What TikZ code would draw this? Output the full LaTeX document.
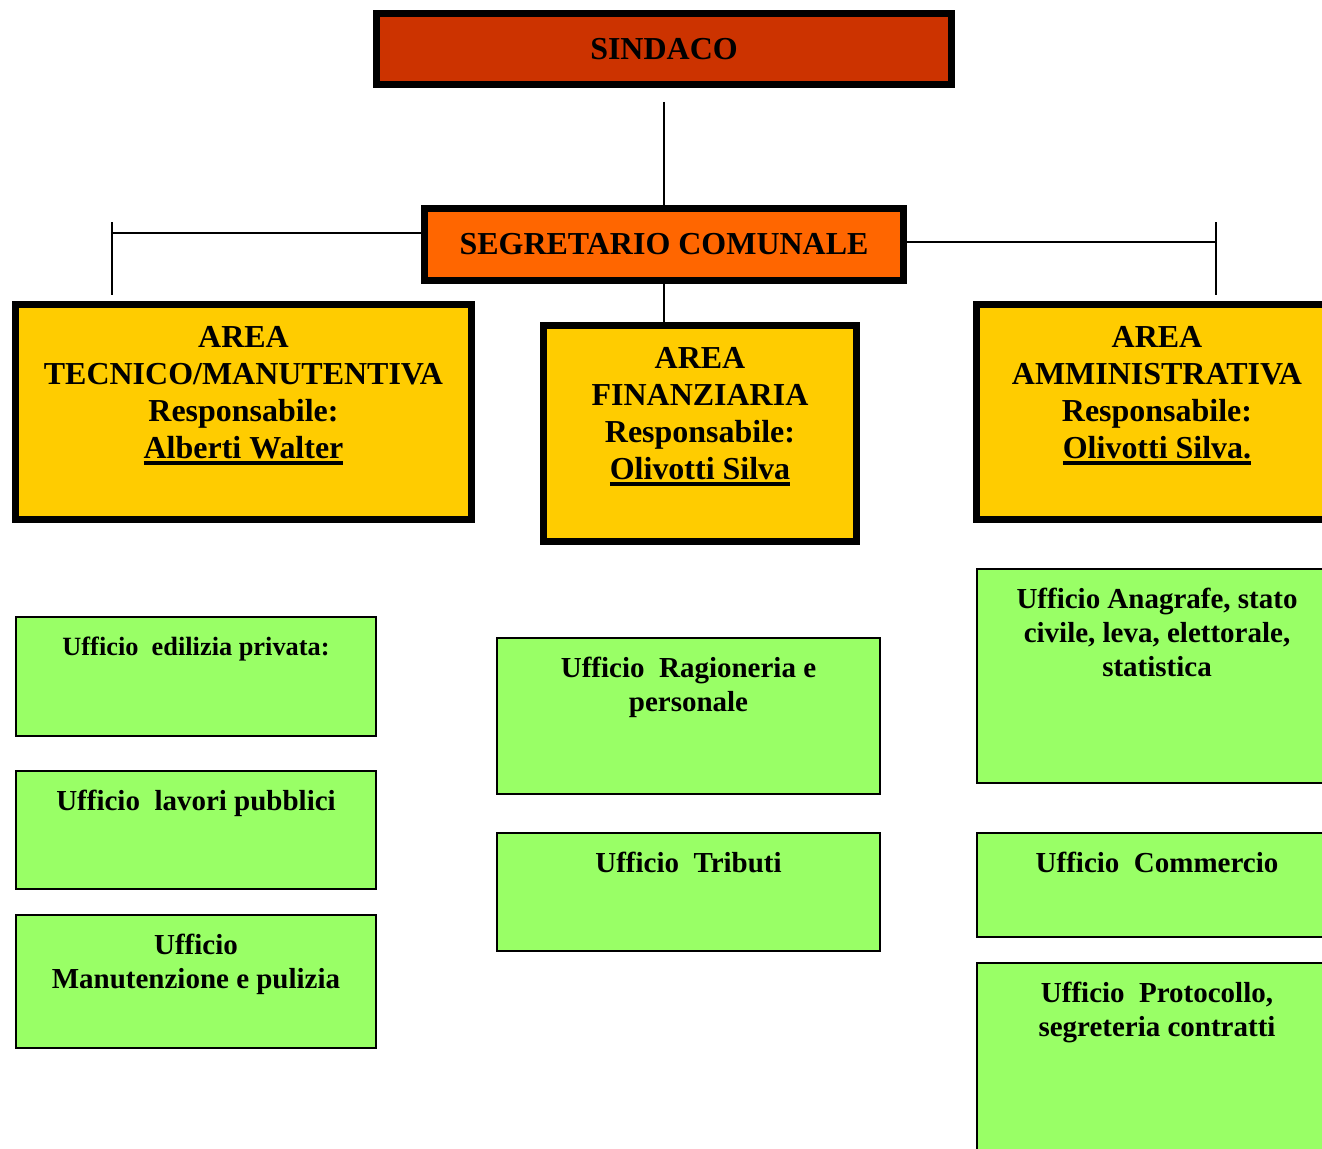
\documentclass[tikz,border=0pt]{standalone}
\usepackage{fontspec}
\setmainfont{Liberation Serif}
\usetikzlibrary{positioning}
\definecolor{rossosind}{HTML}{CC3300}
\definecolor{arancio}{HTML}{FF6600}
\definecolor{giallo}{HTML}{FFCC00}
\definecolor{verde}{HTML}{99FF66}
\newcommand{\sottol}[1]{\setbox0\hbox{#1}\leavevmode\rlap{\rule[-3.4pt]{\wd0}{1.8pt}}\box0}

\begin{document}
\begin{tikzpicture}[
  x=0.02cm, y=-0.02cm,
  node distance=0.4cm
]
\tikzstyle{capo}=[draw=black, line width=4pt, inner sep=0pt,
  font=\bfseries\fontsize{18.2}{21}\selectfont]
\tikzstyle{area}=[capo, fill=giallo, minimum height=4.3cm]
\tikzstyle{ufficio}=[draw=black, line width=1pt, fill=verde, inner sep=0pt, minimum width=7.2cm]
\tikzstyle{titolo}=[font=\bfseries\fontsize{18.2}{21}\selectfont, align=center, inner sep=0pt]
\tikzstyle{testo}=[font=\bfseries\fontsize{16.5}{19.3}\selectfont, align=center, inner sep=0pt]
\tikzstyle{linea}=[line width=0.8pt]

\useasboundingbox (0,0) rectangle (1322,1149);
\clip (0,0) rectangle (1322,1149);

% vertice
\node[capo, fill=rossosind, minimum width=11.5cm, minimum height=1.42cm] (sindaco) at (664,49) {SINDACO};
\node[capo, fill=arancio, minimum width=9.58cm, minimum height=1.44cm] (segretario) at (664,244.5) {SEGRETARIO COMUNALE};

% aree
\node[area, minimum width=9.12cm] (tecnica) at (243.5,412) {};
\node[area, minimum width=6.26cm, minimum height=4.32cm] (finanziaria) at (700,433.5) {};
\node[area, minimum width=7.22cm] (amministrativa) at (1157,412) {};

\node[titolo, below=0.51cm of tecnica.north] (tecnica-t)
  {AREA\\TECNICO/MANUTENTIVA\\Responsabile:\\\sottol{Alberti Walter}};
\node[titolo, below=0.51cm of finanziaria.north] (finanziaria-t)
  {AREA\\FINANZIARIA\\Responsabile:\\\sottol{Olivotti Silva}};
\node[titolo, below=0.51cm of amministrativa.north] (amministrativa-t)
  {AREA\\AMMINISTRATIVA\\Responsabile:\\\sottol{Olivotti Silva.}};

% uffici
\node[ufficio, minimum height=2.38cm] (edilizia) at (196,676.5) {};
\node[ufficio, minimum height=2.36cm] (lavori) at (196,830) {};
\node[ufficio, minimum height=2.66cm] (manutenzione) at (196,981.5) {};
\node[ufficio, minimum width=7.66cm, minimum height=3.12cm] (ragioneria) at (688.5,716) {};
\node[ufficio, minimum width=7.66cm, minimum height=2.36cm] (tributi) at (688.5,892) {};
\node[ufficio, minimum height=4.28cm] (anagrafe) at (1157,676) {};
\node[ufficio, minimum height=2.08cm] (commercio) at (1157,885) {};
\node[ufficio, minimum height=4.4cm] (protocollo) at (1157,1073) {};

\node[testo, font=\bfseries\fontsize{15}{18}\selectfont, below=of edilizia.north] (edilizia-t) {Ufficio\ \ edilizia privata:};
\node[testo, below=of lavori.north] (lavori-t) {Ufficio\ \ lavori pubblici};
\node[testo, below=of manutenzione.north] (manutenzione-t) {Ufficio\\Manutenzione e pulizia};
\node[testo, below=of ragioneria.north] (ragioneria-t) {Ufficio\ \ Ragioneria e\\personale};
\node[testo, below=of tributi.north] (tributi-t) {Ufficio\ \ Tributi};
\node[testo, below=of anagrafe.north] (anagrafe-t) {Ufficio Anagrafe, stato\\civile, leva, elettorale,\\statistica};
\node[testo, below=of commercio.north] (commercio-t) {Ufficio\ \ Commercio};
\node[testo, below=of protocollo.north] (protocollo-t) {Ufficio\ \ Protocollo,\\segreteria contratti};

% collegamenti
\coordinate (sindaco-giu) at (664,102);
\coordinate (sx-su) at (112,222);
\coordinate (sx-giu) at (112,295);
\coordinate (dx-su) at (1216,222);
\coordinate (dx-giu) at (1216,295);
\coordinate (sx-ramo) at (112,233);
\coordinate (dx-ramo) at (1216,242);

\draw[linea] (sindaco-giu) -- (segretario.north);
\draw[linea] (segretario.west |- sx-ramo) -- (sx-ramo);
\draw[linea] (sx-su) -- (sx-giu);
\draw[linea] (segretario.east |- dx-ramo) -- (dx-ramo);
\draw[linea] (dx-su) -- (dx-giu);
\draw[linea] (segretario.south) -- (segretario.south |- finanziaria.north);
\end{tikzpicture}
\end{document}
